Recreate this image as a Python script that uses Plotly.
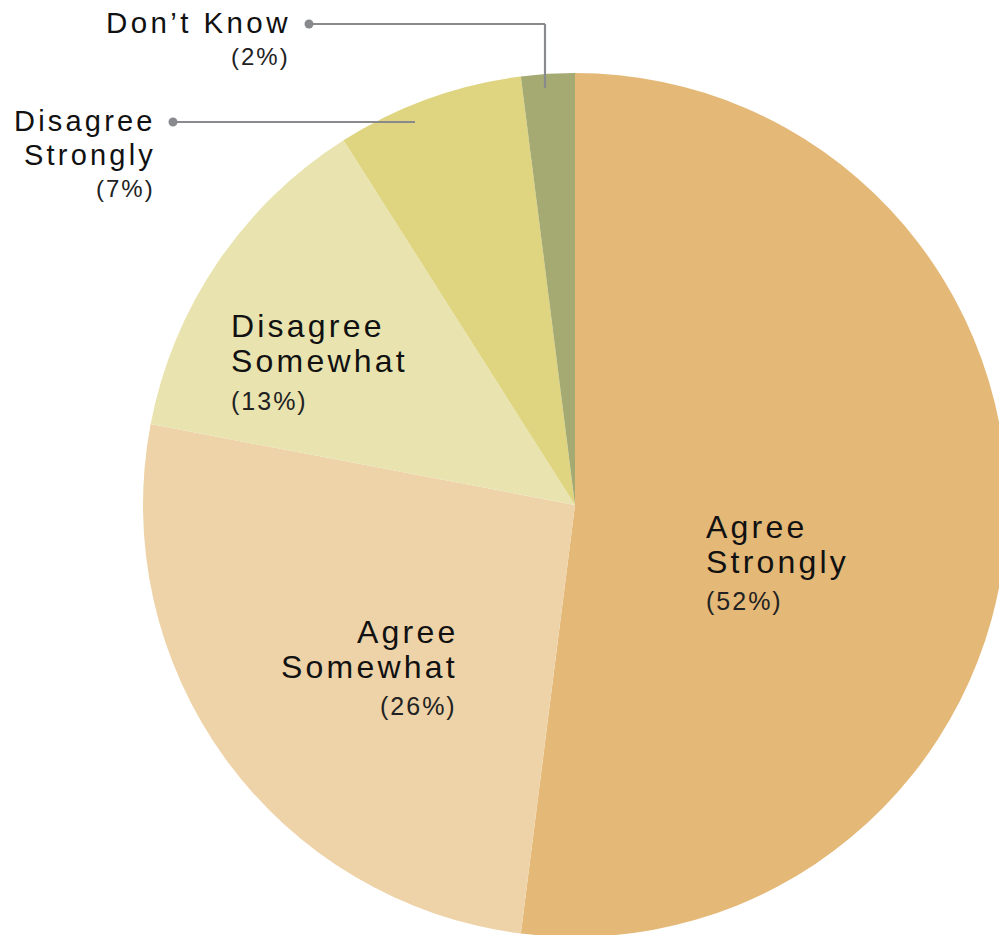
import plotly.graph_objects as go

# Survey responses, clockwise from 12 o'clock
categories = ["Agree Strongly", "Agree Somewhat", "Disagree Somewhat", "Disagree Strongly", "Don’t Know"]
shares = [52, 26, 13, 7, 2]
slice_colors = ["#E4B877", "#EED3A8", "#E9E4AF", "#DFD580", "#A5A972"]
name_lines = [["Agree", "Strongly"], ["Agree", "Somewhat"], ["Disagree", "Somewhat"],
              ["Disagree", "Strongly"], ["Don’t Know"]]

# Canvas in px; the pie slightly overruns the visible page on the right and bottom
W, H = 1010, 940
FONT = "Liberation Sans"
INK = "#111111"
LEADER = "#898A8D"


def fx(x):
    return x / W


def fy(y):
    return 1 - y / H


fig = go.Figure(
    go.Pie(
        values=shares,
        labels=categories,
        marker=dict(colors=slice_colors, line=dict(width=0)),
        sort=False,
        direction="clockwise",
        rotation=0,
        textinfo="none",
        hoverinfo="label+percent",
        showlegend=False,
        domain=dict(x=[fx(143), fx(1007)], y=[fy(937), fy(73)]),
    )
)

# Label placement: anchor x, side, baselines of the name lines, baseline of the share,
# name size, share size, letter spacing of the name
placement = {
    "Agree Strongly":    dict(x=705, side="left",  base=[538, 573], pbase=610, size=32, psize=25, ls=3.2),
    "Agree Somewhat":    dict(x=456, side="right", base=[643, 678], pbase=715, size=32, psize=25, ls=3.2),
    "Disagree Somewhat": dict(x=230, side="left",  base=[337, 372], pbase=410, size=32, psize=25, ls=3.2),
    "Disagree Strongly": dict(x=154, side="right", base=[131, 165], pbase=197, size=29, psize=24, ls=3.2),
    "Don’t Know":        dict(x=289, side="right", base=[33],       pbase=65,  size=29.5, psize=24, ls=3.4),
}


def spaced(text, ls):
    return f'<span style="letter-spacing:{ls}px">{text}</span>'


annotations = []
for cat, lines, val in zip(categories, name_lines, shares):
    p = placement[cat]
    for line, b in zip(lines, p["base"]):
        ls = p["ls"]
        x = p["x"] + (ls if p["side"] == "right" else 0)
        annotations.append(dict(
            x=fx(x), y=fy(b - 0.347 * p["size"]), xref="paper", yref="paper",
            text=spaced(line, ls), showarrow=False, xanchor=p["side"], yanchor="middle",
            font=dict(family=FONT, size=p["size"], color=INK), borderpad=0,
        ))
    ls = 2
    x = p["x"] + (ls if p["side"] == "right" else 0)
    annotations.append(dict(
        x=fx(x), y=fy(p["pbase"] - 0.347 * p["psize"]), xref="paper", yref="paper",
        text=spaced(f"({val}%)", ls), showarrow=False, xanchor=p["side"], yanchor="middle",
        font=dict(family=FONT, size=p["psize"], color="#222222"), borderpad=0,
    ))

# Leader lines for the two thin slices
shapes = [
    dict(type="line", x0=fx(309), y0=fy(24), x1=fx(545), y1=fy(24)),
    dict(type="line", x0=fx(545), y0=fy(24), x1=fx(545), y1=fy(88)),
    dict(type="line", x0=fx(173), y0=fy(122), x1=fx(415), y1=fy(122)),
]
for s in shapes:
    s.update(xref="paper", yref="paper", layer="above", line=dict(color=LEADER, width=2.2))
for cx, cy in [(309, 24), (173, 122)]:
    r = 4.5
    shapes.append(dict(type="circle", xref="paper", yref="paper", layer="above",
                       x0=fx(cx - r), x1=fx(cx + r), y0=fy(cy + r), y1=fy(cy - r),
                       fillcolor=LEADER, line=dict(width=0)))

fig.update_layout(
    width=W, height=H,
    margin=dict(l=0, r=0, t=0, b=0, pad=0),
    paper_bgcolor="white",
    plot_bgcolor="white",
    annotations=annotations,
    shapes=shapes,
)

fig.write_html(
    "out.html",
    config={"displayModeBar": False},
    post_script="document.documentElement.style.overflow='hidden';"
                "document.body.style.overflow='hidden';document.body.style.margin='0';",
)
